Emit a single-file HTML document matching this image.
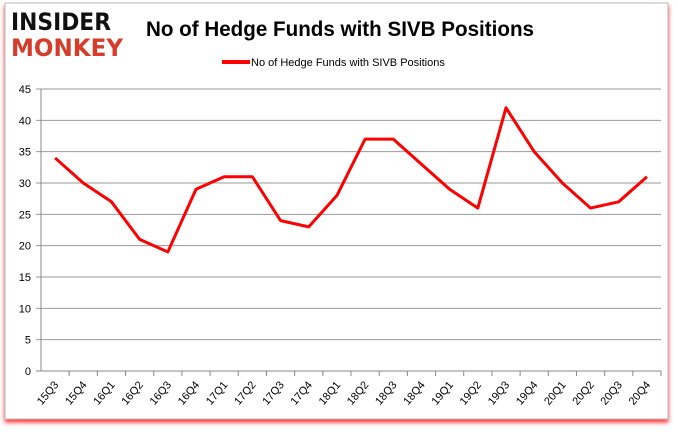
<!DOCTYPE html>
<html><head><meta charset="utf-8"><style>
body{margin:0;width:678px;height:431px;background:#fff;overflow:hidden;font-family:"Liberation Sans",sans-serif}
</style></head><body>
<svg width="678" height="431" xmlns="http://www.w3.org/2000/svg">
<defs><filter id="sh" x="-5%" y="-5%" width="110%" height="115%"><feDropShadow dx="0" dy="3" stdDeviation="2" flood-color="#f00" flood-opacity="0.8"/></filter></defs>
<rect x="5" y="3" width="663" height="416" fill="#fff" stroke="#bbb" filter="url(#sh)"/>
<g>
<text x="11" y="30" font-size="24" font-weight="bold" font-family="'DejaVu Sans',sans-serif" fill="#111" textLength="100" lengthAdjust="spacingAndGlyphs">INSIDER</text>
<text x="11" y="56" font-size="24" font-weight="bold" font-family="'DejaVu Sans',sans-serif" fill="#d63c2a" textLength="112" lengthAdjust="spacingAndGlyphs">MONKEY</text>
</g>
<text x="146" y="36" font-size="21" font-weight="bold" fill="#000" textLength="388" lengthAdjust="spacingAndGlyphs">No of Hedge Funds with SIVB Positions</text>
<g>
<line x1="222" y1="62" x2="250" y2="62" stroke="#f00" stroke-width="4"/>
<text x="251" y="66" font-size="11" fill="#000">No of Hedge Funds with SIVB Positions</text>
</g>
<g id="grid"></g><g id="xl"></g>
<polyline id="line" fill="none" stroke="#f00" stroke-width="3" stroke-linejoin="round"/>
</svg>
<script>
const categories=["15Q3","15Q4","16Q1","16Q2","16Q3","16Q4","17Q1","17Q2","17Q3","17Q4","18Q1","18Q2","18Q3","18Q4","19Q1","19Q2","19Q3","19Q4","20Q1","20Q2","20Q3","20Q4"];
const values=[34,30,27,21,19,29,31,31,24,23,28,37,37,33,29,26,42,35,30,26,27,31];
const yTicks=[0,5,10,15,20,25,30,35,40,45];
const X0=41,X1=661,Y0=371,Y1=89,YMAX=45;
const step=(X1-X0)/categories.length;
const xs=i=>X0+step*(i+0.5);
const ys=v=>Y0-(v/YMAX)*(Y0-Y1);
const NS="http://www.w3.org/2000/svg";
const g=document.getElementById('grid'),xl=document.getElementById('xl');
yTicks.forEach(t=>{
 const l=document.createElementNS(NS,'line');
 l.setAttribute('x1',X0-5);l.setAttribute('x2',X1);l.setAttribute('y1',ys(t));l.setAttribute('y2',ys(t));
 l.setAttribute('stroke',t===0?'#888':'#999');
 
 
 g.appendChild(l);
 const tx=document.createElementNS(NS,'text');
 tx.setAttribute('x',X0-10);tx.setAttribute('y',ys(t)+4);tx.setAttribute('text-anchor','end');tx.setAttribute('font-size','11');
 tx.textContent=t;
 
 
 g.appendChild(tx);
});
const ax=document.createElementNS(NS,'line');
ax.setAttribute('x1',X0);ax.setAttribute('x2',X0);ax.setAttribute('y1',Y1);ax.setAttribute('y2',Y0);ax.setAttribute('stroke','#888');


g.appendChild(ax);
categories.forEach((c,i)=>{
 const tk=document.createElementNS(NS,'line');
 const tx0=X0+step*(i+1);
 tk.setAttribute('x1',tx0);tk.setAttribute('x2',tx0);tk.setAttribute('y1',Y0);tk.setAttribute('y2',Y0+5);tk.setAttribute('stroke','#888');
 
 
 xl.appendChild(tk);
 const t=document.createElementNS(NS,'text');
 const x=xs(i)+4,y=Y0+14;
 t.setAttribute('x',x);t.setAttribute('y',y);t.setAttribute('text-anchor','end');t.setAttribute('font-size','11');
 t.setAttribute('transform','rotate(-50 '+x+' '+y+')');
 t.textContent=c;
 
 
 xl.appendChild(t);
});
document.getElementById('line').setAttribute('points',values.map((v,i)=>xs(i)+','+ys(v)).join(' '));
</script>
</body></html>
